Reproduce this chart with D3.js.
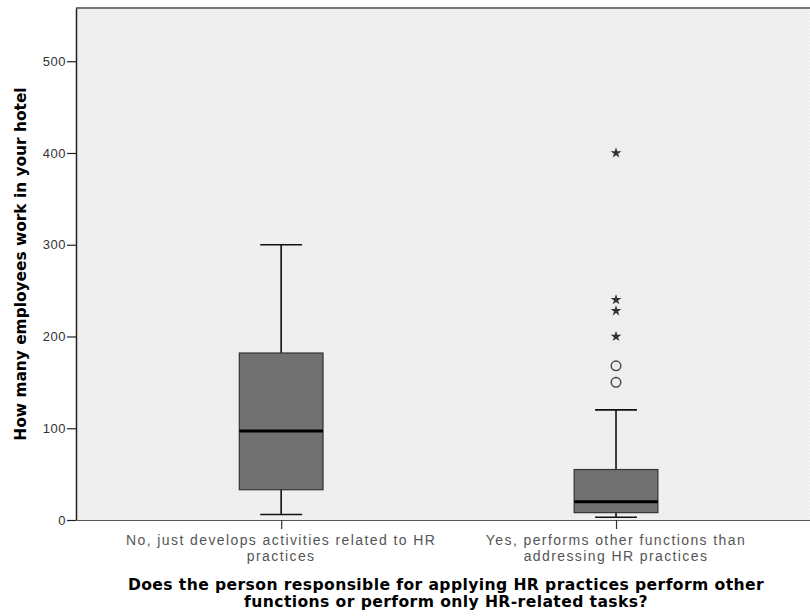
<!DOCTYPE html>
<html>
<head>
<meta charset="utf-8">
<script src="https://cdn.jsdelivr.net/npm/d3@7"></script>
<style>
  body { margin: 0; background: #fff; }
  svg { display: block; }
</style>
</head>
<body>
<div id="chart"></div>
<script>
// data
const categories = ['no', 'yes'];
const categoryLabels = [
  ['No, just develops activities related to HR', 'practices'],
  ['Yes, performs other functions than', 'addressing HR practices']
];
const whiskerLow = [6, 3];
const q1 = [33, 8];
const median = [97, 20];
const q3 = [182, 55];
const whiskerHigh = [300, 120];
const outlierCircles = [[], [150, 168]];
const outlierStars = [[], [200, 228, 240, 400]];
const yTicks = [0, 100, 200, 300, 400, 500];

const width = 810, height = 616;
const margin = { top: 8, right: 0, bottom: 96, left: 76 };
const innerW = width - margin.left - margin.right;
const innerH = height - margin.top - margin.bottom;

const svg = d3.select('#chart').append('svg')
  .attr('width', width)
  .attr('height', height);

const defs = svg.append('defs');
const bgPat = defs.append('pattern')
  .attr('id', 'bgDots')
  .attr('width', 4).attr('height', 4)
  .attr('patternUnits', 'userSpaceOnUse');
bgPat.append('rect').attr('width', 4).attr('height', 4).attr('fill', '#eeeeee');
bgPat.append('rect').attr('x', 1).attr('y', 1).attr('width', 1).attr('height', 1).attr('fill', '#f9f9f9');

const boxPat = defs.append('pattern')
  .attr('id', 'boxDots')
  .attr('width', 4).attr('height', 4)
  .attr('patternUnits', 'userSpaceOnUse');
boxPat.append('rect').attr('width', 4).attr('height', 4).attr('fill', '#717171');
boxPat.append('rect').attr('x', 1).attr('y', 1).attr('width', 1).attr('height', 1).attr('fill', '#676767');

const g = svg.append('g')
  .attr('transform', `translate(${margin.left},${margin.top})`);

const x = d3.scalePoint()
  .domain(categories)
  .range([0, innerW])
  .padding(0.596)
  .align(0.514);

const y = d3.scaleLinear()
  .domain([0, 558])
  .range([innerH, 0]);

const boxW = x.step() * 0.25;

// plot background
g.append('rect')
  .attr('width', innerW)
  .attr('height', innerH)
  .attr('fill', 'url(#bgDots)');

// top border
g.append('line')
  .attr('x1', 0).attr('x2', innerW)
  .attr('y1', 0).attr('y2', 0)
  .attr('stroke', '#777').attr('stroke-width', 2);

// y axis
const yAxis = g.append('g')
  .call(d3.axisLeft(y).tickValues(yTicks).tickSize(9).tickSizeOuter(0).tickPadding(1));
yAxis.select('.domain').attr('stroke', '#222').attr('stroke-width', 1.5);
yAxis.selectAll('.tick line').attr('stroke', '#222').attr('stroke-width', 1.2);
yAxis.selectAll('.tick text')
  .attr('font-family', 'Liberation Sans, Arial, sans-serif')
  .attr('font-size', 13)
  .attr('letter-spacing', 0.5)
  .attr('fill', '#333');

// x axis
const xAxis = g.append('g')
  .attr('transform', `translate(0,${innerH})`)
  .call(d3.axisBottom(x).tickSize(9).tickSizeOuter(0));
xAxis.select('.domain').attr('stroke', '#555').attr('stroke-width', 1.2);
xAxis.selectAll('.tick line').attr('stroke', '#333').attr('stroke-width', 1.2);
xAxis.selectAll('.tick text').remove();

// category labels
categories.forEach((c, i) => {
  const t = g.append('text')
    .attr('x', x(c))
    .attr('y', innerH + 25)
    .attr('text-anchor', 'middle')
    .attr('font-family', 'Liberation Sans, Arial, sans-serif')
    .attr('font-size', 14)
    .attr('letter-spacing', 1.4)
    .attr('fill', '#555');
  categoryLabels[i].forEach((line, j) => {
    t.append('tspan')
      .attr('x', x(c))
      .attr('dy', j === 0 ? 0 : 15.5)
      .text(line);
  });
});

// boxes
const boxes = g.selectAll('.box')
  .data(categories)
  .enter().append('g')
  .attr('class', 'box');

// whiskers
boxes.append('line')
  .attr('x1', d => x(d)).attr('x2', d => x(d))
  .attr('y1', (d, i) => y(whiskerHigh[i]))
  .attr('y2', (d, i) => y(q3[i]))
  .attr('stroke', '#111').attr('stroke-width', 1.6);
boxes.append('line')
  .attr('x1', d => x(d)).attr('x2', d => x(d))
  .attr('y1', (d, i) => y(q1[i]))
  .attr('y2', (d, i) => y(whiskerLow[i]))
  .attr('stroke', '#111').attr('stroke-width', 1.6);
boxes.append('line')
  .attr('x1', d => x(d) - boxW / 4).attr('x2', d => x(d) + boxW / 4)
  .attr('y1', (d, i) => y(whiskerHigh[i]))
  .attr('y2', (d, i) => y(whiskerHigh[i]))
  .attr('stroke', '#111').attr('stroke-width', 1.6);
boxes.append('line')
  .attr('x1', d => x(d) - boxW / 4).attr('x2', d => x(d) + boxW / 4)
  .attr('y1', (d, i) => y(whiskerLow[i]))
  .attr('y2', (d, i) => y(whiskerLow[i]))
  .attr('stroke', '#111').attr('stroke-width', 1.6);

boxes.append('rect')
  .attr('x', d => x(d) - boxW / 2)
  .attr('width', boxW)
  .attr('y', (d, i) => y(q3[i]))
  .attr('height', (d, i) => y(q1[i]) - y(q3[i]))
  .attr('fill', 'url(#boxDots)')
  .attr('stroke', '#333').attr('stroke-width', 1.2);

boxes.append('line')
  .attr('x1', d => x(d) - boxW / 2).attr('x2', d => x(d) + boxW / 2)
  .attr('y1', (d, i) => y(median[i]))
  .attr('y2', (d, i) => y(median[i]))
  .attr('stroke', '#000').attr('stroke-width', 3);

// outliers
categories.forEach((c, i) => {
  g.selectAll(null)
    .data(outlierCircles[i])
    .enter().append('circle')
    .attr('cx', x(c))
    .attr('cy', d => y(d))
    .attr('r', 4.8)
    .attr('fill', 'none')
    .attr('stroke', '#444')
    .attr('stroke-width', 1.4);
  g.selectAll(null)
    .data(outlierStars[i])
    .enter().append('path')
    .attr('transform', d => `translate(${x(c)},${y(d)})`)
    .attr('d', d3.symbol().type(d3.symbolStar).size(36))
    .attr('fill', '#333');
});

// axis titles
svg.append('text')
  .attr('transform', `translate(26,${margin.top + innerH / 2}) rotate(-90)`)
  .attr('text-anchor', 'middle')
  .attr('font-family', 'DejaVu Sans, sans-serif')
  .attr('font-weight', 'bold')
  .attr('font-size', 15.4)
  .attr('fill', '#000')
  .text('How many employees work in your hotel');

const xt = svg.append('text')
  .attr('x', 446)
  .attr('y', 590)
  .attr('text-anchor', 'middle')
  .attr('font-family', 'DejaVu Sans, sans-serif')
  .attr('font-weight', 'bold')
  .attr('font-size', 15.6)
  .attr('letter-spacing', 0.4)
  .attr('fill', '#000');
xt.append('tspan').attr('x', 446).text('Does the person responsible for applying HR practices perform other');
xt.append('tspan').attr('x', 446).attr('dy', 17).text('functions or perform only HR-related tasks?');
</script>
</body>
</html>
